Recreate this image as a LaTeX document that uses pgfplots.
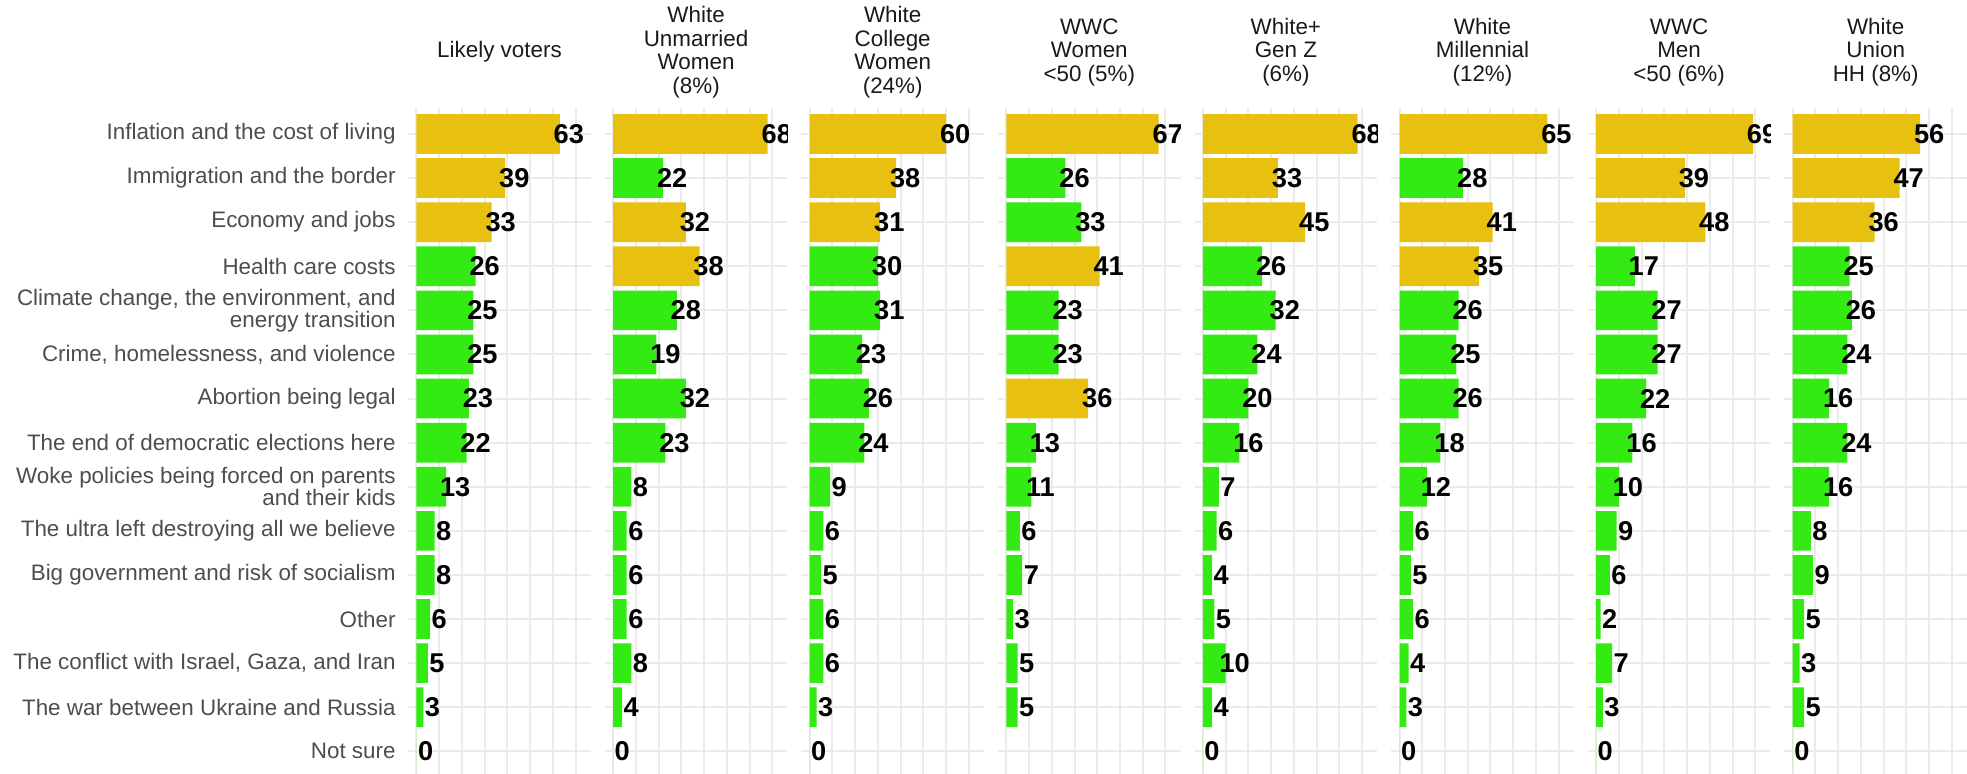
\documentclass[border=0pt]{standalone}
\usepackage{pgfplots}
\pgfplotsset{compat=1.18}
\usepackage{fontspec}
\setmainfont{Liberation Sans}

\definecolor{topbar}{HTML}{E8C110}
\definecolor{restbar}{HTML}{33EA12}
\definecolor{gridc}{HTML}{EBEBEB}
\definecolor{labc}{HTML}{4D4D4D}
\definecolor{titc}{HTML}{1A1A1A}

\pgfplotsset{
  panel/.style={
    scale only axis, width=91.3pt, height=335.15pt,
    anchor=north west,
    xmin=-3.65, xmax=76.65, ymin=0.4, ymax=15.6, y dir=reverse,
    xtick={0,10,...,70}, ytick={1,...,15},
    xticklabels={}, yticklabels={},
    xmajorgrids, ymajorgrids,
    grid style={gridc, line width=1pt},
    axis line style={draw=none},
    major tick length=0pt,
    xbar, bar width=0.9, bar shift=0pt,
    point meta=x,
    nodes near coords={\pgfmathprintnumber[assume math mode=true]{\pgfplotspointmeta}},
    every node near coord/.append style={anchor=center, xshift=4.55pt,
      font=\fontsize{13.6}{14}\selectfont\bfseries, text=black},
    clip marker paths=true,
    title style={at={(0.5,1)}, anchor=center, yshift=21.75pt, align=center,
      font=\fontsize{11.2}{11.75}\selectfont, text=titc},
  },
  top/.style={draw=none, fill=topbar, bar shift=0pt},
  rest/.style={draw=none, fill=restbar, bar shift=0pt},
}

\begin{document}
\begin{tikzpicture}

% Likely voters
\begin{axis}[panel, at={(204.1pt,332.75pt)}, title={Likely voters},
  yticklabels={Inflation and the cost of living, Immigration and the border, Economy and jobs,
    Health care costs, {Climate change, the environment, and\\energy transition},
    {Crime, homelessness, and violence}, Abortion being legal,
    The end of democratic elections here, Woke policies being forced on parents\\and their kids,
    The ultra left destroying all we believe, Big government and risk of socialism, Other,
    {The conflict with Israel, Gaza, and Iran}, The war between Ukraine and Russia, Not sure},
  yticklabel style={font=\fontsize{11.2}{11}\selectfont, text=labc, align=right,
    inner sep=0pt, xshift=-6.1pt}]
\addplot[top] coordinates {(63,1) (39,2) (33,3)};
\addplot[rest] coordinates {(26,4) (25,5) (25,6) (23,7) (22,8) (13,9) (8,10) (8,11) (6,12) (5,13) (3,14) (0,15)};
\end{axis}

% White Unmarried Women
\begin{axis}[panel, at={(302.4pt,332.75pt)}, title={White\\Unmarried\\Women\\(8\%)}]
\addplot[top] coordinates {(68,1) (32,3) (38,4)};
\addplot[rest] coordinates {(22,2) (28,5) (19,6) (32,7) (23,8) (8,9) (6,10) (6,11) (6,12) (8,13) (4,14) (0,15)};
\end{axis}

% White College Women
\begin{axis}[panel, at={(400.7pt,332.75pt)}, title={White\\College\\Women\\(24\%)}]
\addplot[top] coordinates {(60,1) (38,2) (31,3)};
\addplot[rest] coordinates {(30,4) (31,5) (23,6) (26,7) (24,8) (9,9) (6,10) (5,11) (6,12) (6,13) (3,14) (0,15)};
\end{axis}

% WWC Women <50
\begin{axis}[panel, at={(499.0pt,332.75pt)}, title={WWC\\Women\\<50 (5\%)}]
\addplot[top] coordinates {(67,1) (41,4) (36,7)};
\addplot[rest] coordinates {(26,2) (33,3) (23,5) (23,6) (13,8) (11,9) (6,10) (7,11) (3,12) (5,13) (5,14)};
\end{axis}

% White+ Gen Z
\begin{axis}[panel, at={(597.3pt,332.75pt)}, title={White+\\Gen Z\\(6\%)}]
\addplot[top] coordinates {(68,1) (33,2) (45,3)};
\addplot[rest] coordinates {(26,4) (32,5) (24,6) (20,7) (16,8) (7,9) (6,10) (4,11) (5,12) (10,13) (4,14) (0,15)};
\end{axis}

% White Millennial
\begin{axis}[panel, at={(695.6pt,332.75pt)}, title={White\\Millennial\\(12\%)}]
\addplot[top] coordinates {(65,1) (41,3) (35,4)};
\addplot[rest] coordinates {(28,2) (26,5) (25,6) (26,7) (18,8) (12,9) (6,10) (5,11) (6,12) (4,13) (3,14) (0,15)};
\end{axis}

% WWC Men <50
\begin{axis}[panel, at={(793.9pt,332.75pt)}, title={WWC\\Men\\<50 (6\%)}]
\addplot[top] coordinates {(69,1) (39,2) (48,3)};
\addplot[rest] coordinates {(17,4) (27,5) (27,6) (22,7) (16,8) (10,9) (9,10) (6,11) (2,12) (7,13) (3,14) (0,15)};
\end{axis}

% White Union HH
\begin{axis}[panel, at={(892.2pt,332.75pt)}, title={White\\Union\\HH (8\%)}]
\addplot[top] coordinates {(56,1) (47,2) (36,3)};
\addplot[rest] coordinates {(25,4) (26,5) (24,6) (16,7) (24,8) (16,9) (8,10) (9,11) (5,12) (3,13) (5,14) (0,15)};
\end{axis}

\pgfresetboundingbox
\useasboundingbox (0,0) rectangle (983.5pt,386.5pt);
\end{tikzpicture}
\end{document}
